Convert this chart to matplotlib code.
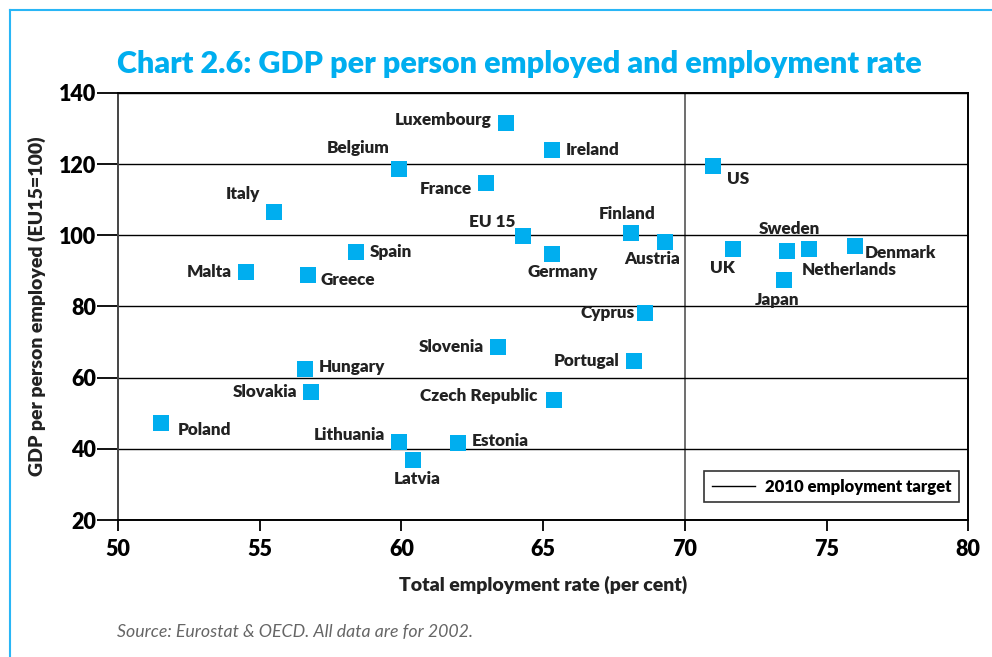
import matplotlib.pyplot as plt
from matplotlib.lines import Line2D

plt.rcParams['font.family'] = ['Lato', 'DejaVu Sans']
plt.rcParams['font.weight'] = 'heavy'
plt.rcParams['axes.labelweight'] = 'heavy'

countries = ['Luxembourg', 'Ireland', 'Belgium', 'France', 'US', 'Italy', 'EU 15',
             'Finland', 'Austria', 'Germany', 'Spain', 'Malta', 'Greece', 'UK',
             'Sweden', 'Netherlands', 'Denmark', 'Japan', 'Cyprus', 'Slovenia',
             'Portugal', 'Hungary', 'Slovakia', 'Czech Republic', 'Poland',
             'Lithuania', 'Estonia', 'Latvia']
employment = [63.7, 65.3, 59.9, 63.0, 71.0, 55.5, 64.3,
              68.1, 69.3, 65.3, 58.4, 54.5, 56.7, 71.7,
              73.6, 74.4, 76.0, 73.5, 68.6, 63.4,
              68.2, 56.6, 56.8, 65.4, 51.5,
              59.9, 62.0, 60.4]
gdp = [131.6, 124.0, 118.6, 114.7, 119.5, 106.6, 99.8,
       100.7, 98.1, 94.8, 95.3, 89.7, 88.9, 96.2,
       95.6, 96.2, 97.0, 87.5, 78.2, 68.6,
       64.7, 62.4, 56.0, 53.7, 47.3,
       41.9, 41.6, 36.9]
target_rate = 70

# label placement: (dx px, dy px up, horizontal alignment)
label_pos = {
    'Luxembourg': (-15, 3, 'right'), 'Ireland': (14, 0, 'left'),
    'Belgium': (-9, 21, 'right'), 'France': (-15, -6, 'right'),
    'US': (14, -13, 'left'), 'Italy': (-14, 18, 'right'),
    'EU 15': (-8, 14, 'right'), 'Finland': (-4, 19, 'center'),
    'Austria': (-13, -17, 'center'), 'Germany': (11, -18, 'center'),
    'Spain': (14, 0, 'left'), 'Malta': (-14, 0, 'right'),
    'Greece': (13, -5, 'left'), 'UK': (-11, -19, 'center'),
    'Sweden': (3, 22, 'center'), 'Netherlands': (-8, -21, 'left'),
    'Denmark': (10, -7, 'left'), 'Japan': (-7, -20, 'center'),
    'Cyprus': (-11, 0, 'right'), 'Slovenia': (-14, 0, 'right'),
    'Portugal': (-14, 0, 'right'), 'Hungary': (14, 2, 'left'),
    'Slovakia': (-14, 0, 'right'), 'Czech Republic': (-17, 4, 'right'),
    'Poland': (17, -7, 'left'), 'Lithuania': (-14, 7, 'right'),
    'Estonia': (14, 2, 'left'), 'Latvia': (4, -19, 'center'),
}

blue = '#00AEEF'
dark = '#222222'

fig = plt.figure(figsize=(9.92, 6.57), dpi=100)
ax = fig.add_axes([0.119, 0.2085, 0.857, 0.65])

ax.set_xlim(50, 80)
ax.set_ylim(20, 140)
ax.set_xticks(range(50, 81, 5))
ax.set_yticks(range(20, 141, 20))
ax.grid(axis='y', color='black', linewidth=1.0, zorder=0)
ax.axvline(target_rate, color='#555555', linewidth=1.2, zorder=1)

ax.scatter(employment, gdp, marker='s', s=130, color=blue, linewidths=0, zorder=3)

for name, x, y in zip(countries, employment, gdp):
    dx, dy, ha = label_pos[name]
    ax.annotate(name, (x, y), xytext=(dx * 0.72, dy * 0.72), textcoords='offset points',
                ha=ha, va='center', fontsize=12.3, fontweight='heavy', color=dark, zorder=4)

for side in ['left', 'bottom', 'top', 'right']:
    ax.spines[side].set_linewidth(1.4)
ax.spines['left'].set_color('#444444')
ax.spines['bottom'].set_color('black')

ax.tick_params(axis='y', length=15, width=1.3, labelsize=15.5, pad=1)
ax.tick_params(axis='x', length=8, width=1.3, labelsize=15.5, pad=6)

ax.set_xlabel('Total employment rate (per cent)', fontsize=14, fontweight='heavy',
              color=dark, labelpad=11)
ax.set_ylabel('GDP per person employed (EU15=100)', fontsize=14, fontweight='heavy',
              color=dark, labelpad=9)

handle = Line2D([], [], color='black', linewidth=1.0)
leg = ax.legend([handle], ['2010 employment target'], loc='lower right',
                bbox_to_anchor=(0.9894, 0.042), borderaxespad=0, fancybox=False,
                edgecolor='#333333', framealpha=1, handlelength=2.6,
                handletextpad=0.6, borderpad=0.45,
                prop={'weight': 'heavy', 'size': 12})
leg.get_frame().set_linewidth(1.2)

fig.text(0.5237, 0.903, 'Chart 2.6: GDP per person employed and employment rate',
         ha='center', va='center', fontsize=22, fontweight='heavy', color=blue)
fig.text(0.118, 0.038, 'Source: Eurostat & OECD. All data are for 2002.',
         ha='left', va='center', fontsize=12.8, style='italic', fontweight='normal',
         color='#666666')

# light blue frame on top and left
fig.add_artist(Line2D([10 / 992, 1], [1 - 10 / 657, 1 - 10 / 657],
                      transform=fig.transFigure, color='#29B6F6', linewidth=1.5))
fig.add_artist(Line2D([10 / 992, 10 / 992], [0, 1 - 10 / 657],
                      transform=fig.transFigure, color='#29B6F6', linewidth=1.5))

fig.savefig('out.png', dpi=100)
